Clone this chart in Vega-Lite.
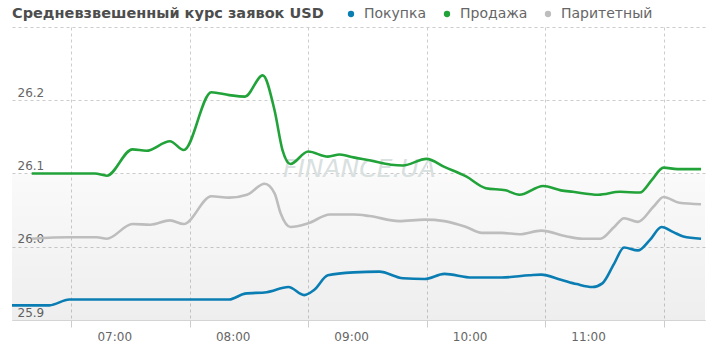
{
  "$schema": "https://vega.github.io/schema/vega-lite/v6.json",
  "width": 693,
  "height": 293,
  "autosize": {"type": "none"},
  "padding": {"left": 12, "top": 27, "right": 15, "bottom": 40},
  "background": "#ffffff",
  "config": {
    "view": {"stroke": null},
    "font": "DejaVu Sans"
  },
  "layer": [
    {
      "data": {"values": [{}]},
      "mark": {"type": "rect", "fill": {"gradient": "linear", "x1": 0, "y1": 0, "x2": 0, "y2": 1, "stops": [{"offset": 0, "color": "rgba(0,0,0,0.018)"}, {"offset": 1, "color": "rgba(0,0,0,0.065)"}]}},
      "encoding": {
        "y": {"datum": 26.1, "type": "quantitative"},
        "y2": {"datum": 25.9}
      }
    },
    {
      "data": {"values": [{}]},
      "mark": {"type": "text", "text": "FINANCE.UA", "fontSize": 25, "fontStyle": "italic", "color": "#d9e0e0", "align": "center", "baseline": "alphabetic"},
      "encoding": {
        "x": {"datum": {"year": 2024, "month": 1, "date": 1, "hours": 9, "minutes": 26}, "type": "temporal"},
        "y": {"datum": 26.095, "type": "quantitative"}
      }
    },
    {
      "data": {"values": [
        {"t": "2024-01-01T06:40", "s": "Продажа", "v": 26.100},
        {"t": "2024-01-01T07:12", "s": "Продажа", "v": 26.100},
        {"t": "2024-01-01T07:18", "s": "Продажа", "v": 26.097},
        {"t": "2024-01-01T07:31", "s": "Продажа", "v": 26.133},
        {"t": "2024-01-01T07:38", "s": "Продажа", "v": 26.131},
        {"t": "2024-01-01T07:50", "s": "Продажа", "v": 26.144},
        {"t": "2024-01-01T07:57", "s": "Продажа", "v": 26.132},
        {"t": "2024-01-01T08:11", "s": "Продажа", "v": 26.211},
        {"t": "2024-01-01T08:20", "s": "Продажа", "v": 26.207},
        {"t": "2024-01-01T08:28", "s": "Продажа", "v": 26.205},
        {"t": "2024-01-01T08:37", "s": "Продажа", "v": 26.234},
        {"t": "2024-01-01T08:43", "s": "Продажа", "v": 26.186},
        {"t": "2024-01-01T08:47", "s": "Продажа", "v": 26.132},
        {"t": "2024-01-01T08:51", "s": "Продажа", "v": 26.113},
        {"t": "2024-01-01T09:00", "s": "Продажа", "v": 26.130},
        {"t": "2024-01-01T09:10", "s": "Продажа", "v": 26.123},
        {"t": "2024-01-01T09:16", "s": "Продажа", "v": 26.126},
        {"t": "2024-01-01T09:23", "s": "Продажа", "v": 26.122},
        {"t": "2024-01-01T09:31", "s": "Продажа", "v": 26.118},
        {"t": "2024-01-01T09:42", "s": "Продажа", "v": 26.112},
        {"t": "2024-01-01T09:48", "s": "Продажа", "v": 26.111},
        {"t": "2024-01-01T10:00", "s": "Продажа", "v": 26.120},
        {"t": "2024-01-01T10:09", "s": "Продажа", "v": 26.109},
        {"t": "2024-01-01T10:20", "s": "Продажа", "v": 26.096},
        {"t": "2024-01-01T10:30", "s": "Продажа", "v": 26.080},
        {"t": "2024-01-01T10:40", "s": "Продажа", "v": 26.077},
        {"t": "2024-01-01T10:47", "s": "Продажа", "v": 26.071},
        {"t": "2024-01-01T10:59", "s": "Продажа", "v": 26.083},
        {"t": "2024-01-01T11:08", "s": "Продажа", "v": 26.077},
        {"t": "2024-01-01T11:14", "s": "Продажа", "v": 26.075},
        {"t": "2024-01-01T11:27", "s": "Продажа", "v": 26.071},
        {"t": "2024-01-01T11:38", "s": "Продажа", "v": 26.075},
        {"t": "2024-01-01T11:48", "s": "Продажа", "v": 26.074},
        {"t": "2024-01-01T11:54", "s": "Продажа", "v": 26.091},
        {"t": "2024-01-01T12:00", "s": "Продажа", "v": 26.108},
        {"t": "2024-01-01T12:07", "s": "Продажа", "v": 26.106},
        {"t": "2024-01-01T12:19", "s": "Продажа", "v": 26.106},

        {"t": "2024-01-01T06:40", "s": "Паритетный", "v": 26.011},
        {"t": "2024-01-01T06:59", "s": "Паритетный", "v": 26.013},
        {"t": "2024-01-01T07:13", "s": "Паритетный", "v": 26.013},
        {"t": "2024-01-01T07:18", "s": "Паритетный", "v": 26.011},
        {"t": "2024-01-01T07:31", "s": "Паритетный", "v": 26.031},
        {"t": "2024-01-01T07:40", "s": "Паритетный", "v": 26.030},
        {"t": "2024-01-01T07:50", "s": "Паритетный", "v": 26.036},
        {"t": "2024-01-01T07:57", "s": "Паритетный", "v": 26.031},
        {"t": "2024-01-01T08:11", "s": "Паритетный", "v": 26.069},
        {"t": "2024-01-01T08:20", "s": "Паритетный", "v": 26.067},
        {"t": "2024-01-01T08:29", "s": "Паритетный", "v": 26.071},
        {"t": "2024-01-01T08:38", "s": "Паритетный", "v": 26.086},
        {"t": "2024-01-01T08:43", "s": "Паритетный", "v": 26.073},
        {"t": "2024-01-01T08:46", "s": "Паритетный", "v": 26.046},
        {"t": "2024-01-01T08:51", "s": "Паритетный", "v": 26.027},
        {"t": "2024-01-01T09:00", "s": "Паритетный", "v": 26.032},
        {"t": "2024-01-01T09:11", "s": "Паритетный", "v": 26.044},
        {"t": "2024-01-01T09:23", "s": "Паритетный", "v": 26.044},
        {"t": "2024-01-01T09:31", "s": "Паритетный", "v": 26.042},
        {"t": "2024-01-01T09:46", "s": "Паритетный", "v": 26.035},
        {"t": "2024-01-01T09:59", "s": "Паритетный", "v": 26.037},
        {"t": "2024-01-01T10:09", "s": "Паритетный", "v": 26.035},
        {"t": "2024-01-01T10:20", "s": "Паритетный", "v": 26.027},
        {"t": "2024-01-01T10:28", "s": "Паритетный", "v": 26.019},
        {"t": "2024-01-01T10:38", "s": "Паритетный", "v": 26.019},
        {"t": "2024-01-01T10:47", "s": "Паритетный", "v": 26.017},
        {"t": "2024-01-01T10:58", "s": "Паритетный", "v": 26.022},
        {"t": "2024-01-01T11:11", "s": "Паритетный", "v": 26.014},
        {"t": "2024-01-01T11:19", "s": "Паритетный", "v": 26.011},
        {"t": "2024-01-01T11:28", "s": "Паритетный", "v": 26.011},
        {"t": "2024-01-01T11:35", "s": "Паритетный", "v": 26.027},
        {"t": "2024-01-01T11:40", "s": "Паритетный", "v": 26.039},
        {"t": "2024-01-01T11:47", "s": "Паритетный", "v": 26.034},
        {"t": "2024-01-01T11:55", "s": "Паритетный", "v": 26.055},
        {"t": "2024-01-01T12:00", "s": "Паритетный", "v": 26.068},
        {"t": "2024-01-01T12:08", "s": "Паритетный", "v": 26.060},
        {"t": "2024-01-01T12:19", "s": "Паритетный", "v": 26.058},

        {"t": "2024-01-01T06:30", "s": "Покупка", "v": 25.920},
        {"t": "2024-01-01T06:49", "s": "Покупка", "v": 25.920},
        {"t": "2024-01-01T06:59", "s": "Покупка", "v": 25.928},
        {"t": "2024-01-01T08:20", "s": "Покупка", "v": 25.928},
        {"t": "2024-01-01T08:28", "s": "Покупка", "v": 25.936},
        {"t": "2024-01-01T08:39", "s": "Покупка", "v": 25.938},
        {"t": "2024-01-01T08:50", "s": "Покупка", "v": 25.945},
        {"t": "2024-01-01T08:58", "s": "Покупка", "v": 25.934},
        {"t": "2024-01-01T09:03", "s": "Покупка", "v": 25.941},
        {"t": "2024-01-01T09:10", "s": "Покупка", "v": 25.961},
        {"t": "2024-01-01T09:23", "s": "Покупка", "v": 25.965},
        {"t": "2024-01-01T09:36", "s": "Покупка", "v": 25.966},
        {"t": "2024-01-01T09:48", "s": "Покупка", "v": 25.957},
        {"t": "2024-01-01T09:59", "s": "Покупка", "v": 25.956},
        {"t": "2024-01-01T10:09", "s": "Покупка", "v": 25.963},
        {"t": "2024-01-01T10:23", "s": "Покупка", "v": 25.958},
        {"t": "2024-01-01T10:38", "s": "Покупка", "v": 25.958},
        {"t": "2024-01-01T10:52", "s": "Покупка", "v": 25.961},
        {"t": "2024-01-01T10:58", "s": "Покупка", "v": 25.962},
        {"t": "2024-01-01T11:08", "s": "Покупка", "v": 25.955},
        {"t": "2024-01-01T11:16", "s": "Покупка", "v": 25.949},
        {"t": "2024-01-01T11:24", "s": "Покупка", "v": 25.945},
        {"t": "2024-01-01T11:29", "s": "Покупка", "v": 25.950},
        {"t": "2024-01-01T11:35", "s": "Покупка", "v": 25.977},
        {"t": "2024-01-01T11:40", "s": "Покупка", "v": 25.999},
        {"t": "2024-01-01T11:47", "s": "Покупка", "v": 25.995},
        {"t": "2024-01-01T11:53", "s": "Покупка", "v": 26.009},
        {"t": "2024-01-01T11:59", "s": "Покупка", "v": 26.027},
        {"t": "2024-01-01T12:05", "s": "Покупка", "v": 26.020},
        {"t": "2024-01-01T12:10", "s": "Покупка", "v": 26.014},
        {"t": "2024-01-01T12:19", "s": "Покупка", "v": 26.011}
      ]},
      "mark": {"type": "line", "interpolate": "monotone", "strokeWidth": 2.6},
      "encoding": {
        "x": {
          "field": "t", "type": "temporal",
          "scale": {"domain": [{"year": 2024, "month": 1, "date": 1, "hours": 6, "minutes": 30}, {"year": 2024, "month": 1, "date": 1, "hours": 12, "minutes": 21}]},
          "axis": {
            "title": null,
            "values": [
              {"year": 2024, "month": 1, "date": 1, "hours": 7},
              {"year": 2024, "month": 1, "date": 1, "hours": 8},
              {"year": 2024, "month": 1, "date": 1, "hours": 9},
              {"year": 2024, "month": 1, "date": 1, "hours": 10},
              {"year": 2024, "month": 1, "date": 1, "hours": 11},
              {"year": 2024, "month": 1, "date": 1, "hours": 12}
            ],
            "labelExpr": "hours(datum.value) >= 12 ? '' : timeFormat(datum.value, '%H:%M')",
            "labelOffset": 43,
            "labelFontSize": 12,
            "labelColor": "#666666",
            "labelPadding": 4,
            "tickSize": 7,
            "tickColor": "#cccccc",
            "domainColor": "#d4d4d4",
            "grid": true,
            "gridDash": [3, 3],
            "gridColor": "#cccccc"
          }
        },
        "y": {
          "field": "v", "type": "quantitative",
          "scale": {"domain": [25.9, 26.3], "nice": false, "zero": false},
          "axis": {
            "title": null,
            "values": [25.9, 26.0, 26.1, 26.2, 26.3],
            "labelExpr": "datum.value > 26.25 ? '' : format(datum.value, '.1f')",
            "domain": false,
            "ticks": false,
            "labelAlign": "left",
            "labelBaseline": "alphabetic",
            "labelPadding": -5,
            "labelOffset": -4,
            "labelFontSize": 12,
            "labelColor": "#666666",
            "grid": true,
            "gridDash": [3, 3],
            "gridColor": "#cccccc"
          }
        },
        "color": {
          "field": "s", "type": "nominal",
          "scale": {"domain": ["Покупка", "Продажа", "Паритетный"], "range": ["#0a7db3", "#22a33a", "#bdbdbd"]},
          "legend": {
            "orient": "none",
            "legendX": 0,
            "legendY": -20,
            "direction": "horizontal",
            "title": "Средневзвешенный курс заявок USD",
            "titleOrient": "left",
            "titleLimit": 400,
            "titleFontSize": 14.5,
            "titleFontWeight": "bold",
            "titleColor": "#4d4d4d",
            "titlePadding": 20,
            "titleBaseline": "middle",
            "labelFontSize": 14,
            "labelColor": "#666666",
            "symbolType": "circle",
            "symbolSize": 40,
            "columnPadding": 13,
            "labelOffset": 6,
            "encode": {"symbols": {"update": {"fill": {"scale": "color", "field": "value"}, "stroke": {"value": "transparent"}, "strokeWidth": {"value": 0}}}}
          }
        }
      }
    }
  ]
}
